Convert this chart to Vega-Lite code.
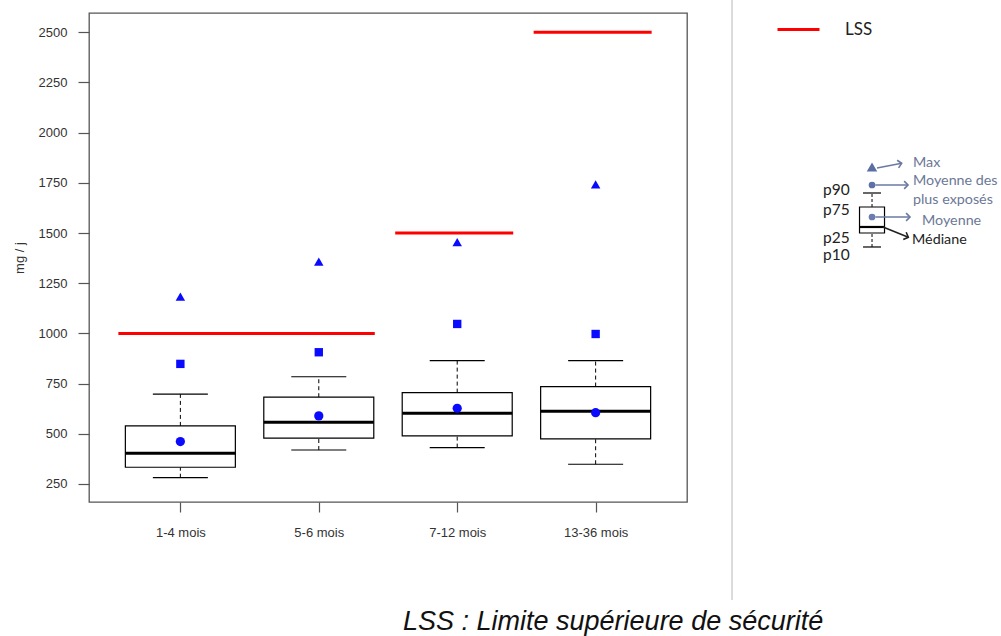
{
  "$schema": "https://vega.github.io/schema/vega-lite/v6.json",
  "width": 598,
  "height": 489,
  "autosize": {"type": "none"},
  "padding": {"left": 89, "top": 13, "right": 314, "bottom": 134},
  "background": "white",
  "config": {
    "view": {"stroke": "#555555", "strokeWidth": 1.3},
    "font": "Liberation Sans",
    "axis": {"grid": false, "domain": false, "labelFont": "Liberation Sans", "labelFontSize": 13, "labelColor": "#333333", "tickColor": "#555555", "tickWidth": 1.2, "titleFont": "Liberation Sans", "titleFontSize": 13, "titleFontWeight": "normal", "titleColor": "#333333"},
    "title": {"font": "Liberation Sans", "fontSize": 27, "fontStyle": "italic", "fontWeight": "normal", "color": "#111111"}
  },
  "title": {"text": "LSS : Limite supérieure de sécurité", "orient": "bottom", "anchor": "start", "frame": "group", "dx": 314, "offset": 8},
  "datasets": {
    "boites": [
      {"age": "1-4 mois", "p10": 281, "p25": 333, "mediane": 403, "p75": 539, "p90": 697, "moyenne": 461, "moy_exposes": 848, "max": 1183},
      {"age": "5-6 mois", "p10": 419, "p25": 478, "mediane": 557, "p75": 682, "p90": 784, "moyenne": 589, "moy_exposes": 906, "max": 1357},
      {"age": "7-12 mois", "p10": 431, "p25": 489, "mediane": 602, "p75": 705, "p90": 864, "moyenne": 627, "moy_exposes": 1047, "max": 1455},
      {"age": "13-36 mois", "p10": 348, "p25": 474, "mediane": 612, "p75": 735, "p90": 864, "moyenne": 605, "moy_exposes": 997, "max": 1742}
    ],
    "lss": [
      {"debut": "1-4 mois", "fin": "5-6 mois", "lss": 1000, "legende": "LSS"},
      {"debut": "7-12 mois", "fin": "7-12 mois", "lss": 1500, "legende": "LSS"},
      {"debut": "13-36 mois", "fin": "13-36 mois", "lss": 2500, "legende": "LSS"}
    ],
    "separateur": [{"kx": 107.53, "haut": 102.66, "bas": -20.04}],
    "cle_boite": [{"kx": 130.94, "p10": 52.15, "p25": 55.01, "med": 56.24, "p75": 60.33, "p90": 63.19, "moy": 58.28, "moy_exposes": 64.83, "max": 68.51}],
    "cle_fleches": [
      {"nom": "Max", "kx": 131.77, "ky": 68.3, "kx2": 135.9, "ky2": 69.26},
      {"nom": "Moyenne des plus exposés", "kx": 131.5, "ky": 64.83, "kx2": 136.96, "ky2": 64.83},
      {"nom": "Moyenne", "kx": 131.5, "ky": 58.28, "kx2": 137.29, "ky2": 58.28},
      {"nom": "Médiane", "kx": 132.78, "ky": 56.24, "kx2": 137.01, "ky2": 54.13}
    ],
    "cle_textes": [
      {"texte": "Max", "kx": 137.79, "ky": 69.33, "groupe": "note"},
      {"texte": "Moyenne des", "kx": 137.79, "ky": 65.64, "groupe": "note"},
      {"texte": "plus exposés", "kx": 137.79, "ky": 61.76, "groupe": "note"},
      {"texte": "Moyenne", "kx": 139.3, "ky": 57.46, "groupe": "note"},
      {"texte": "Médiane", "kx": 137.63, "ky": 53.58, "groupe": "mediane"},
      {"texte": "p90", "kx": 122.74, "ky": 63.8, "groupe": "pct"},
      {"texte": "p75", "kx": 122.74, "ky": 59.71, "groupe": "pct"},
      {"texte": "p25", "kx": 122.74, "ky": 53.99, "groupe": "pct"},
      {"texte": "p10", "kx": 122.74, "ky": 50.51, "groupe": "pct"}
    ]
  },
  "layer": [
    {
      "data": {"name": "boites"},
      "layer": [
        {
          "mark": {"type": "rule", "color": "#000000", "strokeWidth": 1, "strokeDash": [4, 3]},
          "encoding": {
            "x": {"field": "age", "type": "ordinal", "scale": {"type": "point", "domain": ["1-4 mois", "5-6 mois", "7-12 mois", "13-36 mois"], "padding": 0.66}, "axis": {"title": null, "labelAngle": 0, "tickSize": 10, "labelPadding": 14}},
            "y": {"field": "p10", "type": "quantitative", "scale": {"domain": [160, 2596], "nice": false, "zero": false, "padding": 0}, "axis": {"title": "mg / j", "values": [250, 500, 750, 1000, 1250, 1500, 1750, 2000, 2250, 2500], "format": "d", "tickSize": 11, "labelPadding": 11, "titlePadding": 12}},
            "y2": {"field": "p25"}
          }
        },
        {
          "mark": {"type": "rule", "color": "#000000", "strokeWidth": 1, "strokeDash": [4, 3]},
          "encoding": {
            "x": {"field": "age", "type": "ordinal", "scale": {"type": "point", "domain": ["1-4 mois", "5-6 mois", "7-12 mois", "13-36 mois"], "padding": 0.66}},
            "y": {"field": "p75", "type": "quantitative", "scale": {"domain": [160, 2596], "nice": false, "zero": false, "padding": 0}},
            "y2": {"field": "p90"}
          }
        },
        {
          "mark": {"type": "tick", "color": "#000000", "size": 55, "thickness": 1.2, "opacity": 1},
          "encoding": {
            "x": {"field": "age", "type": "ordinal", "scale": {"type": "point", "domain": ["1-4 mois", "5-6 mois", "7-12 mois", "13-36 mois"], "padding": 0.66}},
            "y": {"field": "p10", "type": "quantitative", "scale": {"domain": [160, 2596], "nice": false, "zero": false, "padding": 0}}
          }
        },
        {
          "mark": {"type": "tick", "color": "#000000", "size": 55, "thickness": 1.2, "opacity": 1},
          "encoding": {
            "x": {"field": "age", "type": "ordinal", "scale": {"type": "point", "domain": ["1-4 mois", "5-6 mois", "7-12 mois", "13-36 mois"], "padding": 0.66}},
            "y": {"field": "p90", "type": "quantitative", "scale": {"domain": [160, 2596], "nice": false, "zero": false, "padding": 0}}
          }
        },
        {
          "mark": {"type": "bar", "orient": "vertical", "width": 110, "fill": "#ffffff", "stroke": "#000000", "strokeWidth": 1.2},
          "encoding": {
            "x": {"field": "age", "type": "ordinal", "scale": {"type": "point", "domain": ["1-4 mois", "5-6 mois", "7-12 mois", "13-36 mois"], "padding": 0.66}},
            "y": {"field": "p25", "type": "quantitative", "scale": {"domain": [160, 2596], "nice": false, "zero": false, "padding": 0}},
            "y2": {"field": "p75"}
          }
        },
        {
          "mark": {"type": "tick", "color": "#000000", "size": 110, "thickness": 3, "opacity": 1},
          "encoding": {
            "x": {"field": "age", "type": "ordinal", "scale": {"type": "point", "domain": ["1-4 mois", "5-6 mois", "7-12 mois", "13-36 mois"], "padding": 0.66}},
            "y": {"field": "mediane", "type": "quantitative", "scale": {"domain": [160, 2596], "nice": false, "zero": false, "padding": 0}}
          }
        },
        {
          "mark": {"type": "point", "shape": "circle", "filled": true, "color": "#0a0aff", "size": 85, "opacity": 1},
          "encoding": {
            "x": {"field": "age", "type": "ordinal", "scale": {"type": "point", "domain": ["1-4 mois", "5-6 mois", "7-12 mois", "13-36 mois"], "padding": 0.66}},
            "y": {"field": "moyenne", "type": "quantitative", "scale": {"domain": [160, 2596], "nice": false, "zero": false, "padding": 0}}
          }
        },
        {
          "mark": {"type": "point", "shape": "square", "filled": true, "color": "#0a0aff", "size": 70, "opacity": 1},
          "encoding": {
            "x": {"field": "age", "type": "ordinal", "scale": {"type": "point", "domain": ["1-4 mois", "5-6 mois", "7-12 mois", "13-36 mois"], "padding": 0.66}},
            "y": {"field": "moy_exposes", "type": "quantitative", "scale": {"domain": [160, 2596], "nice": false, "zero": false, "padding": 0}}
          }
        },
        {
          "mark": {"type": "point", "shape": "triangle-up", "filled": true, "color": "#0a0aff", "size": 90, "opacity": 1},
          "encoding": {
            "x": {"field": "age", "type": "ordinal", "scale": {"type": "point", "domain": ["1-4 mois", "5-6 mois", "7-12 mois", "13-36 mois"], "padding": 0.66}},
            "y": {"field": "max", "type": "quantitative", "scale": {"domain": [160, 2596], "nice": false, "zero": false, "padding": 0}}
          }
        },
        {
          "data": {"name": "lss"},
          "mark": {"type": "rule", "strokeWidth": 3, "xOffset": -62, "x2Offset": 56},
          "encoding": {
            "x": {"field": "debut", "type": "ordinal", "scale": {"type": "point", "domain": ["1-4 mois", "5-6 mois", "7-12 mois", "13-36 mois"], "padding": 0.66}},
            "x2": {"field": "fin"},
            "y": {"field": "lss", "type": "quantitative", "scale": {"domain": [160, 2596], "nice": false, "zero": false, "padding": 0}},
            "color": {"field": "legende", "type": "nominal", "scale": {"domain": ["LSS"], "range": ["#ff0000"]}, "legend": {"title": null, "orient": "none", "legendX": 687, "legendY": -6, "symbolType": "stroke", "symbolSize": 1764, "symbolStrokeWidth": 3, "labelFont": "Lato", "labelFontSize": 17, "labelColor": "#222222", "labelOffset": 24, "padding": 0}}
          }
        }
      ]
    },
    {
      "layer": [
        {
          "data": {"name": "separateur"},
          "mark": {"type": "rule", "color": "#d0d0d0", "strokeWidth": 1.5},
          "encoding": {
            "x": {"field": "kx", "type": "quantitative", "scale": {"domain": [0, 100], "nice": false, "zero": false, "padding": 0}, "axis": null},
            "y": {"field": "haut", "type": "quantitative", "scale": {"domain": [0, 100], "nice": false, "zero": false, "padding": 0}, "axis": null},
            "y2": {"field": "bas"}
          }
        },
        {
          "data": {"name": "cle_boite"},
          "layer": [
            {
              "mark": {"type": "rule", "color": "#000000", "strokeWidth": 1, "strokeDash": [3, 2]},
              "encoding": {
                "x": {"field": "kx", "type": "quantitative", "scale": {"domain": [0, 100], "nice": false, "zero": false, "padding": 0}, "axis": null},
                "y": {"field": "p10", "type": "quantitative", "scale": {"domain": [0, 100], "nice": false, "zero": false, "padding": 0}, "axis": null},
                "y2": {"field": "p25"}
              }
            },
            {
              "mark": {"type": "rule", "color": "#000000", "strokeWidth": 1, "strokeDash": [3, 2]},
              "encoding": {
                "x": {"field": "kx", "type": "quantitative", "scale": {"domain": [0, 100], "nice": false, "zero": false, "padding": 0}, "axis": null},
                "y": {"field": "p75", "type": "quantitative", "scale": {"domain": [0, 100], "nice": false, "zero": false, "padding": 0}, "axis": null},
                "y2": {"field": "p90"}
              }
            },
            {
              "mark": {"type": "tick", "orient": "horizontal", "color": "#000000", "size": 18, "thickness": 1.2, "opacity": 1},
              "encoding": {
                "x": {"field": "kx", "type": "quantitative", "scale": {"domain": [0, 100], "nice": false, "zero": false, "padding": 0}, "axis": null},
                "y": {"field": "p10", "type": "quantitative", "scale": {"domain": [0, 100], "nice": false, "zero": false, "padding": 0}, "axis": null}
              }
            },
            {
              "mark": {"type": "tick", "orient": "horizontal", "color": "#000000", "size": 18, "thickness": 1.2, "opacity": 1},
              "encoding": {
                "x": {"field": "kx", "type": "quantitative", "scale": {"domain": [0, 100], "nice": false, "zero": false, "padding": 0}, "axis": null},
                "y": {"field": "p90", "type": "quantitative", "scale": {"domain": [0, 100], "nice": false, "zero": false, "padding": 0}, "axis": null}
              }
            },
            {
              "mark": {"type": "bar", "orient": "vertical", "width": 25, "fill": "#ffffff", "stroke": "#000000", "strokeWidth": 1.2},
              "encoding": {
                "x": {"field": "kx", "type": "quantitative", "scale": {"domain": [0, 100], "nice": false, "zero": false, "padding": 0}, "axis": null},
                "y": {"field": "p25", "type": "quantitative", "scale": {"domain": [0, 100], "nice": false, "zero": false, "padding": 0}, "axis": null},
                "y2": {"field": "p75"}
              }
            },
            {
              "mark": {"type": "tick", "orient": "horizontal", "color": "#000000", "size": 25, "thickness": 2.2, "opacity": 1},
              "encoding": {
                "x": {"field": "kx", "type": "quantitative", "scale": {"domain": [0, 100], "nice": false, "zero": false, "padding": 0}, "axis": null},
                "y": {"field": "med", "type": "quantitative", "scale": {"domain": [0, 100], "nice": false, "zero": false, "padding": 0}, "axis": null}
              }
            },
            {
              "mark": {"type": "point", "shape": "triangle-up", "filled": true, "color": "#5a6ea3", "size": 110, "opacity": 1},
              "encoding": {
                "x": {"field": "kx", "type": "quantitative", "scale": {"domain": [0, 100], "nice": false, "zero": false, "padding": 0}, "axis": null},
                "y": {"field": "max", "type": "quantitative", "scale": {"domain": [0, 100], "nice": false, "zero": false, "padding": 0}, "axis": null}
              }
            },
            {
              "mark": {"type": "point", "shape": "circle", "filled": true, "color": "#5f70a8", "size": 45, "opacity": 1},
              "encoding": {
                "x": {"field": "kx", "type": "quantitative", "scale": {"domain": [0, 100], "nice": false, "zero": false, "padding": 0}, "axis": null},
                "y": {"field": "moy_exposes", "type": "quantitative", "scale": {"domain": [0, 100], "nice": false, "zero": false, "padding": 0}, "axis": null}
              }
            },
            {
              "mark": {"type": "point", "shape": "circle", "filled": true, "color": "#6d7cae", "size": 45, "opacity": 1},
              "encoding": {
                "x": {"field": "kx", "type": "quantitative", "scale": {"domain": [0, 100], "nice": false, "zero": false, "padding": 0}, "axis": null},
                "y": {"field": "moy", "type": "quantitative", "scale": {"domain": [0, 100], "nice": false, "zero": false, "padding": 0}, "axis": null}
              }
            }
          ]
        },
        {
          "data": {"name": "cle_fleches"},
          "layer": [
            {
              "mark": {"type": "rule", "strokeWidth": 1.6},
              "encoding": {
                "x": {"field": "kx", "type": "quantitative", "scale": {"domain": [0, 100], "nice": false, "zero": false, "padding": 0}, "axis": null},
                "y": {"field": "ky", "type": "quantitative", "scale": {"domain": [0, 100], "nice": false, "zero": false, "padding": 0}, "axis": null},
                "x2": {"field": "kx2"},
                "y2": {"field": "ky2"},
                "color": {"condition": {"test": "datum.nom === 'Médiane'", "value": "#222222"}, "value": "#6a7aa0"}
              }
            },
            {
              "mark": {"type": "point", "shape": "M-1,-1L0,0L-1,1", "filled": false, "size": 60, "strokeWidth": 1.6, "opacity": 1},
              "encoding": {
                "x": {"field": "kx2", "type": "quantitative", "scale": {"domain": [0, 100], "nice": false, "zero": false, "padding": 0}, "axis": null},
                "y": {"field": "ky2", "type": "quantitative", "scale": {"domain": [0, 100], "nice": false, "zero": false, "padding": 0}, "axis": null},
                "color": {"condition": {"test": "datum.nom === 'Médiane'", "value": "#222222"}, "value": "#6a7aa0"},
                "angle": {"condition": [{"test": "datum.nom === 'Médiane'", "value": 22}, {"test": "datum.nom === 'Max'", "value": -11}], "value": 0}
              }
            }
          ]
        },
        {
          "data": {"name": "cle_textes"},
          "mark": {"type": "text", "align": "left", "baseline": "middle", "font": "Lato"},
          "encoding": {
            "x": {"field": "kx", "type": "quantitative", "scale": {"domain": [0, 100], "nice": false, "zero": false, "padding": 0}, "axis": null},
            "y": {"field": "ky", "type": "quantitative", "scale": {"domain": [0, 100], "nice": false, "zero": false, "padding": 0}, "axis": null},
            "text": {"field": "texte"},
            "size": {"condition": {"test": "datum.groupe === 'pct'", "value": 15.5}, "value": 14.3},
            "color": {"condition": {"test": "datum.groupe === 'note'", "value": "#6b7896"}, "value": "#222222"}
          }
        }
      ]
    }
  ],
  "resolve": {"scale": {"x": "independent", "y": "independent"}}
}
